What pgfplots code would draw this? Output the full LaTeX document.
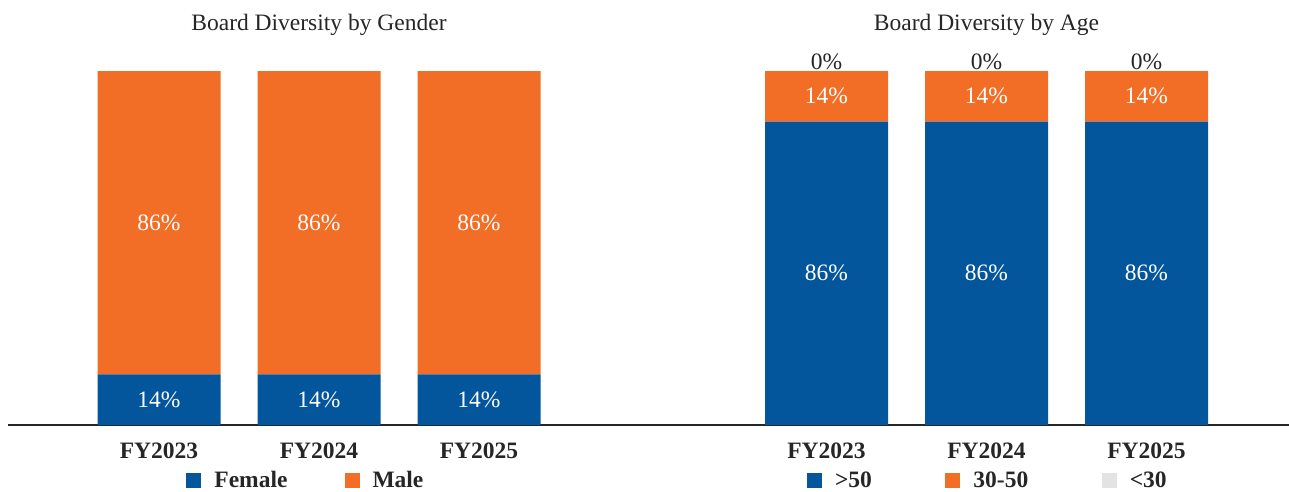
\documentclass[border=0pt]{standalone}
\usepackage{fontspec}
\setmainfont{Liberation Serif}
\usepackage{pgfplots}
\pgfplotsset{compat=1.18}
\definecolor{cblue}{HTML}{03559C}
\definecolor{corange}{HTML}{F26E26}
\definecolor{cgrey}{HTML}{E3E3E3}
\definecolor{ctext}{HTML}{262626}
\newcommand{\fs}{\fontsize{23.5}{28}\selectfont}
\pgfplotsset{
  sqlegend/.style={legend image code/.code={\fill[##1,draw=none] (0pt,-7.5pt) rectangle (15pt,7.5pt);}},
  inlbl/.style={every node near coord/.style={font=\fs, text=white, anchor=center}},
  toplbl/.style={every node near coord/.style={font=\fs, text=ctext, anchor=base, yshift=1pt}},
  base/.style={
    scale only axis, width=640pt, height=354pt,
    ymin=0, ymax=100,
    ybar stacked, bar width=123pt,
    axis x line=bottom, axis y line=none,
    axis line style={-, draw=ctext, line width=2.5pt},
    xtick=data, major tick length=0pt,
    xticklabels={FY2023,FY2024,FY2025},
    xticklabel style={font=\fs\bfseries, text=ctext, anchor=base, yshift=-33pt},
    clip=false,
    /pgf/number format/assume math mode=true,
    point meta=explicit,
    nodes near coords={\pgfmathprintnumber{\pgfplotspointmeta}\%},
    legend columns=-1,
    legend style={draw=none, fill=none, font=\fs\bfseries, text=ctext, anchor=center,
      /tikz/every odd column/.append style={column sep=11pt}},
    title style={font=\fs, text=ctext, anchor=base},
  }
}
\begin{document}
\begin{tikzpicture}
\useasboundingbox (0,0) rectangle (1289pt,491pt);
\begin{axis}[base, at={(8pt,66pt)}, anchor=south west,
  xmin=-0.94375, xmax=3.05625,
  title={Board Diversity by Gender}, title style={at={(0.4859,1.097)}},
  legend style={at={(0.4655,-0.1568)}, /tikz/every even column/.append style={column sep=55pt}}]
\addplot[fill=cblue, draw=none, sqlegend, inlbl]
  coordinates {(0,14.29) [14] (1,14.29) [14] (2,14.29) [14]};
\addplot[fill=corange, draw=none, sqlegend, inlbl]
  coordinates {(0,85.71) [86] (1,85.71) [86] (2,85.71) [86]};
\legend{Female, Male}
\end{axis}
\begin{axis}[base, width=641pt, at={(648pt,66pt)}, anchor=south west,
  xmin=-1.115625, xmax=2.890625,
  title={Board Diversity by Age}, title style={at={(0.5281,1.097)}},
  legend style={at={(0.5302,-0.1568)}, /tikz/every even column/.append style={column sep=71.5pt}}]
\addplot[fill=cblue, draw=none, sqlegend, inlbl]
  coordinates {(0,85.71) [86] (1,85.71) [86] (2,85.71) [86]};
\addplot[fill=corange, draw=none, sqlegend, inlbl]
  coordinates {(0,14.29) [14] (1,14.29) [14] (2,14.29) [14]};
\addplot[fill=cgrey, draw=none, sqlegend, toplbl]
  coordinates {(0,0.001) [0] (1,0.001) [0] (2,0.001) [0]};
\legend{>50, 30-50, <30}
\end{axis}
\end{tikzpicture}
\end{document}
